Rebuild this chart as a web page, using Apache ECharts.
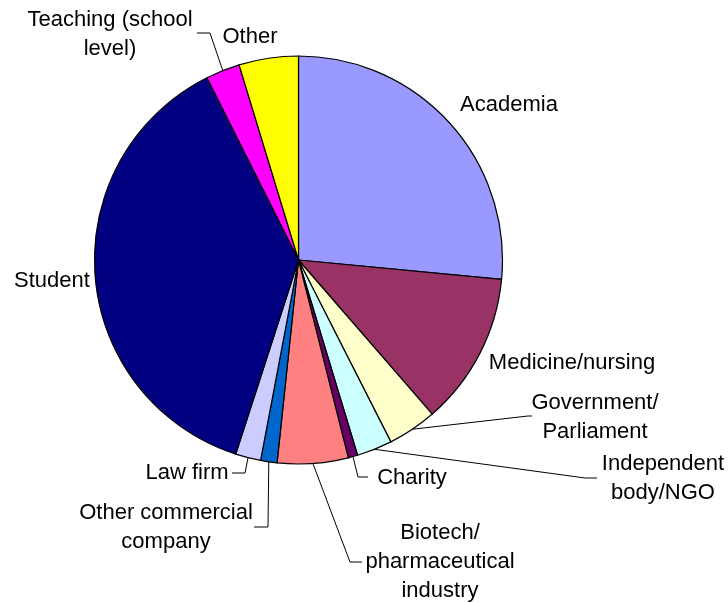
<!DOCTYPE html>
<html>
<head>
<meta charset="utf-8">
<script src="https://cdn.jsdelivr.net/npm/echarts@6/dist/echarts.min.js"></script>
<style>
  html, body { margin: 0; padding: 0; background: #fff; }
  #chart { width: 728px; height: 603px; }
</style>
</head>
<body>
<div id="chart"></div>
<script>
// slices clockwise from 12 o'clock
const categories = [
  'Academia', 'Medicine/nursing', 'Government/\nParliament', 'Independent\nbody/NGO',
  'Charity', 'Biotech/\npharmaceutical\nindustry', 'Other commercial\ncompany', 'Law firm',
  'Student', 'Teaching (school\nlevel)', 'Other'
];
const shares = [26.5, 12.1, 3.9, 2.8, 0.75, 5.6, 1.3, 2.0, 37.6, 2.7, 4.7];
const colors = [
  '#9999ff', '#993366', '#ffffcc', '#ccffff', '#660066', '#ff8080',
  '#0066cc', '#ccccff', '#000080', '#ff00ff', '#ffff00'
];

// label placement (centre of text block) and leader elbow/end, excel style
const labelPos = [
  [509, 105], [572, 363], [595, 417], [663, 478], [412, 478], [440, 562],
  [166, 527], [187, 473], [52, 281], [110, 34], [250, 37]
];
const leaders = [
  null, null,
  [[528, 416], [532, 416]],
  [[585, 478], [597, 478]],
  [[358, 477], [368, 477]],
  [[350, 562], [362, 562]],
  [[268, 527], [254, 527]],
  [[245, 473], [232, 473]],
  null,
  [[210, 33], [197, 33]],
  null
];

const chart = echarts.init(document.getElementById('chart'));

const data = categories.map((name, i) => ({
  name: name,
  value: shares[i],
  itemStyle: { color: colors[i] },
  labelLine: { show: !!leaders[i] }
}));

chart.setOption({
  animation: false,
  series: [{
    type: 'pie',
    center: [298.5, 260],
    radius: 204,
    startAngle: 90,
    clockwise: true,
    avoidLabelOverlap: false,
    silent: true,
    itemStyle: { borderColor: '#000', borderWidth: 1.2 },
    label: {
      position: 'outside',
      color: '#000',
      fontFamily: 'Liberation Sans, Arial, sans-serif',
      fontSize: 22,
      lineHeight: 29,
      align: 'center'
    },
    labelLine: {
      show: true,
      smooth: false,
      lineStyle: { color: '#000', width: 1 }
    },
    labelLayout: function (params) {
      const i = params.dataIndex;
      const out = {
        x: labelPos[i][0],
        y: labelPos[i][1],
        align: 'center',
        verticalAlign: 'middle'
      };
      if (leaders[i] && params.labelLinePoints) {
        out.labelLinePoints = [params.labelLinePoints[0], leaders[i][0], leaders[i][1]];
      }
      return out;
    },
    data: data
  }]
});
</script>
</body>
</html>
